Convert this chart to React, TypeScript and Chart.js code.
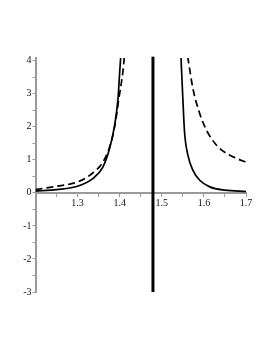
import React, { useEffect, useRef } from "react";
import { Chart, registerables } from "chart.js";

Chart.register(...registerables);

// Curve readings (x, y)
const solidLeftX = [1.2, 1.25, 1.3, 1.336, 1.36, 1.376, 1.388, 1.396, 1.4, 1.4025];
const solidLeftY = [0.05, 0.1, 0.2, 0.43, 0.78, 1.34, 2.05, 2.85, 3.66, 4.12];
const dashedLeftX = [1.2, 1.25, 1.3, 1.336, 1.36, 1.376, 1.388, 1.398, 1.408, 1.411];
const dashedLeftY = [0.1, 0.2, 0.33, 0.6, 0.93, 1.39, 2.0, 2.85, 3.71, 4.12];
const solidRightX = [1.5455, 1.55, 1.554, 1.562, 1.574, 1.59, 1.614, 1.65, 1.7];
const solidRightY = [4.12, 2.85, 1.84, 1.14, 0.68, 0.38, 0.18, 0.08, 0.04];
const dashedRightX = [1.5615, 1.574, 1.59, 1.606, 1.63, 1.654, 1.678, 1.7];
const dashedRightY = [4.12, 3.15, 2.4, 1.9, 1.44, 1.19, 1.04, 0.93];
const asymptoteX = [1.479, 1.479];
const asymptoteY = [-3, 4.12];

const xTicks = [1.2, 1.25, 1.3, 1.35, 1.4, 1.45, 1.5, 1.55, 1.6, 1.65, 1.7];
const xLabels = ["", "", "1.3", "", "1.4", "", "1.5", "", "1.6", "", "1.7"];
const yTicks = [-3, -2.5, -2, -1.5, -1, -0.5, 0, 0.5, 1, 1.5, 2, 2.5, 3, 3.5, 4];
const yLabels = ["-3", "", "-2", "", "-1", "", "0", "", "1", "", "2", "", "3", "", "4"];

const pts = (xs: number[], ys: number[]) => xs.map((x, i) => ({ x, y: ys[i] }));

export default function App() {
  const ref = useRef<HTMLCanvasElement | null>(null);
  useEffect(() => {
    if (!ref.current) return;
    const axisColor = "#9a9a9a";
    const curve = (data: any, dash: number[] | undefined, width: number, extra: any = {}) => ({
      data,
      showLine: true,
      borderColor: "#000",
      borderWidth: width,
      borderDash: dash,
      pointRadius: 0,
      cubicInterpolationMode: "monotone",
      fill: false,
      ...extra,
    });
    const chart = new Chart(ref.current, {
      type: "scatter",
      data: {
        datasets: [
          curve(pts(dashedLeftX, dashedLeftY), [7, 4], 1.7),
          curve(pts(dashedRightX, dashedRightY), [7, 4], 1.7),
          curve(pts(solidLeftX, solidLeftY), undefined, 1.7),
          curve(pts(solidRightX, solidRightY), undefined, 1.7),
          curve(pts(asymptoteX, asymptoteY), undefined, 3, { clip: false, cubicInterpolationMode: "default" }),
        ] as any,
      },
      options: {
        animation: false,
        responsive: false,
        devicePixelRatio: 1,
        layout: { padding: { left: 0, right: 27, top: 58, bottom: 61 } },
        plugins: { legend: { display: false }, tooltip: { enabled: false } },
        scales: {
          x: {
            type: "linear",
            min: 1.2,
            max: 1.7,
            position: { y: 0 } as any,
            afterBuildTicks: (s: any) => {
              s.ticks = xTicks.map((v) => ({ value: v }));
            },
            ticks: {
              autoSkip: false,
              maxRotation: 0,
              padding: 2,
              color: "#111",
              font: { family: "Liberation Serif", size: 10 },
              callback: (_v: any, i: number) => xLabels[i],
            },
            grid: { drawOnChartArea: false, drawTicks: true, tickLength: 3, color: axisColor, lineWidth: 1 },
            border: { display: true, color: axisColor, width: 2 },
          },
          y: {
            type: "linear",
            min: -3,
            max: 4.08,
            position: "left",
            afterFit: (s: any) => {
              s.width = 35.5;
            },
            afterBuildTicks: (s: any) => {
              s.ticks = yTicks.map((v) => ({ value: v }));
            },
            ticks: {
              autoSkip: false,
              padding: 1,
              color: "#111",
              font: { family: "Liberation Serif", size: 10 },
              callback: (_v: any, i: number) => yLabels[i],
            },
            grid: { drawOnChartArea: false, drawTicks: true, tickLength: 3, color: axisColor, lineWidth: 1 },
            border: { display: true, color: axisColor, width: 2 },
          },
        },
      },
    });
    return () => chart.destroy();
  }, []);
  return (
    <div style={{ position: "absolute", left: 0, top: 0, width: 273, height: 353, background: "#fff" }}>
      <canvas ref={ref} width={273} height={353} style={{ display: "block" }} />
    </div>
  );
}
